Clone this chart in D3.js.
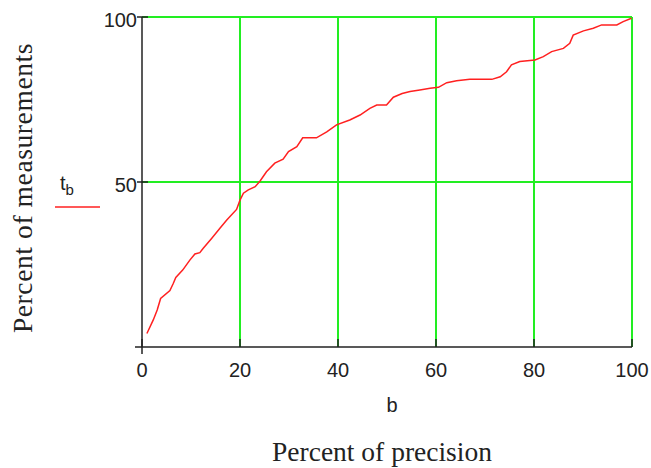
<!DOCTYPE html>
<html lang="en">
<head>
  <meta charset="UTF-8">
  <title>Percent of measurements vs precision</title>
  <style>
    body { margin: 0; background: #fff; overflow: hidden; }
    .tick-label { font-family: "Liberation Sans Narrow", "Liberation Sans", sans-serif; font-size: 20px; fill: #222; }
    .title { font-family: "Liberation Serif", serif; font-size: 27.5px; fill: #222; }
    .grid { stroke: #22ee22; stroke-width: 2px; }
    .axis-line { stroke: #222; stroke-width: 1.5px; }
  </style>
</head>
<body>
  <script src="https://d3js.org/d3.v7.min.js"></script>
  <script>
    // precision (b) in percent, and percent of measurements t_b
    const precision = [1, 2.3, 3.1, 3.8, 5.7, 6.4, 6.9, 8.3, 9.8, 10.8, 11.8, 12.5, 14.2, 15.9, 17.3, 19.3,
      20, 20.7, 21.7, 23.1, 24.1, 25.4, 27.1, 28.8, 29.9, 31.6, 32.8, 35.6, 37.7, 39.7, 42.4, 44.5,
      46.5, 47.9, 49.9, 51.3, 53.1, 54.7, 56.7, 58.8, 60.5, 62.2, 64.2, 66.9, 71.4, 73.1, 74.4,
      75.4, 77.1, 80.2, 81.9, 83.6, 86, 87.3, 88, 90.1, 92.1, 93.8, 96.9, 98.2, 99.9];
    const measurements = [4.1, 8.2, 11.2, 14.7, 17.1, 19.3, 21.1, 23.3, 26.4, 28.2, 28.6, 29.9, 32.9, 36, 38.5, 41.7,
      44.5, 46.6, 47.6, 48.6, 50.3, 53.1, 55.7, 56.9, 59.2, 60.7, 63.4, 63.4, 65.2, 67.3, 68.8, 70.3,
      72.3, 73.3, 73.3, 75.7, 76.8, 77.4, 77.9, 78.4, 78.7, 80.1, 80.7, 81.1, 81.1, 81.9, 83.4,
      85.5, 86.5, 87, 88, 89.5, 90.5, 92, 94.5, 95.8, 96.6, 97.6, 97.6, 98.6, 99.6];
    const xTicks = [0, 20, 40, 60, 80, 100];
    const yTicks = [50, 100];

    const width = 651, height = 468;
    const svg = d3.select("body").append("svg").attr("width", width).attr("height", height);

    const x = d3.scaleLinear().domain([0, 100]).range([142, 632]);
    const y = d3.scaleLinear().domain([0, 100]).range([347, 17]);

    // grid
    svg.append("g").selectAll("line").data(xTicks.slice(1)).join("line")
      .attr("class", "grid")
      .attr("x1", d => x(d)).attr("x2", d => x(d))
      .attr("y1", y(100)).attr("y2", y(0));
    svg.append("g").selectAll("line").data(yTicks).join("line")
      .attr("class", "grid")
      .attr("x1", x(0)).attr("x2", x(100))
      .attr("y1", d => y(d)).attr("y2", d => y(d));

    // axes
    svg.append("line").attr("class", "axis-line")
      .attr("x1", x(0) - 7).attr("x2", x(100)).attr("y1", y(0)).attr("y2", y(0));
    svg.append("line").attr("class", "axis-line")
      .attr("x1", x(0)).attr("x2", x(0)).attr("y1", y(100)).attr("y2", y(0) + 7);
    svg.append("g").selectAll("line").data(xTicks).join("line")
      .attr("class", "axis-line")
      .attr("x1", d => x(d)).attr("x2", d => x(d))
      .attr("y1", y(0) - 8).attr("y2", y(0));
    svg.append("g").selectAll("line").data(yTicks).join("line")
      .attr("class", "axis-line")
      .attr("x1", x(0) - 5).attr("x2", x(0) + 6)
      .attr("y1", d => y(d)).attr("y2", d => y(d));

    svg.append("g").selectAll("text").data(xTicks).join("text")
      .attr("class", "tick-label").attr("text-anchor", "middle")
      .attr("x", d => x(d)).attr("y", y(0) + 30)
      .text(d => d);
    svg.append("g").selectAll("text").data(yTicks).join("text")
      .attr("class", "tick-label").attr("text-anchor", "end")
      .attr("x", x(0) - 5).attr("y", d => y(d) + 10)
      .text(d => d);

    // curve
    const line = d3.line().x(d => x(d[0])).y(d => y(d[1]));
    svg.append("path")
      .datum(precision.map((p, i) => [p, measurements[i]]))
      .attr("fill", "none").attr("stroke", "#ff2020").attr("stroke-width", 1.5)
      .attr("d", line);

    // legend
    const leg = svg.append("text").attr("class", "tick-label").attr("x", 60).attr("y", 190);
    leg.append("tspan").text("t");
    leg.append("tspan").attr("dy", 5).style("font-size", "15px").text("b");
    svg.append("line").attr("x1", 55).attr("x2", 100).attr("y1", 207).attr("y2", 207)
      .attr("stroke", "#ff2020").attr("stroke-width", 1.5);

    // axis titles
    svg.append("text").attr("class", "tick-label").attr("text-anchor", "middle")
      .attr("x", 392).attr("y", 412).text("b");
    svg.append("text").attr("class", "title").attr("text-anchor", "middle")
      .attr("x", 382).attr("y", 461).text("Percent of precision");
    svg.append("text").attr("class", "title").attr("text-anchor", "middle")
      .style("letter-spacing", "0.6px")
      .attr("transform", "translate(32,188) rotate(-90)").text("Percent of measurements");
  </script>
</body>
</html>
